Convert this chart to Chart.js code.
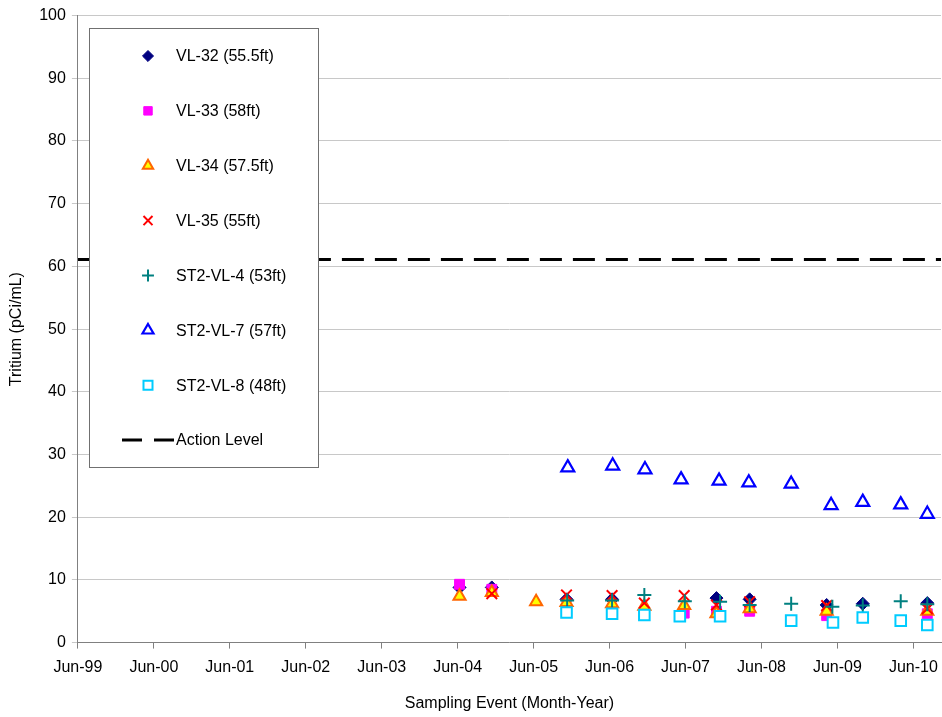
<!DOCTYPE html>
<html>
<head>
<meta charset="utf-8">
<script src="https://cdn.jsdelivr.net/npm/chart.js@4.4.1/dist/chart.umd.min.js"></script>
<style>
  html, body { margin: 0; padding: 0; background: #fff; }
  #wrap { width: 942px; height: 717px; }
</style>
</head>
<body>
<div id="wrap"><canvas id="c" width="942" height="717"></canvas></div>
<script>
// ---- Data (dates of sampling events, tritium in pCi/mL) ----
const seriesLabels = ['VL-32 (55.5ft)', 'VL-33 (58ft)', 'VL-34 (57.5ft)', 'VL-35 (55ft)',
                      'ST2-VL-4 (53ft)', 'ST2-VL-7 (57ft)', 'ST2-VL-8 (48ft)', 'Action Level'];

const vl32Dates  = ['2004-06-10','2004-11-13','2005-11-07','2006-06-13','2007-10-28','2008-04-05','2009-04-10','2009-10-01','2010-08-07'];
const vl32Values = [8.8, 8.8, 6.9, 6.9, 7.1, 6.9, 6.0, 6.2, 6.3];

const vl33Dates  = ['2004-06-10','2004-11-13','2005-11-07','2006-06-13','2006-11-16','2007-05-25','2007-10-28','2008-04-05','2009-04-10','2010-08-07'];
const vl33Values = [9.3, 8.5, 5.4, 5.0, 4.4, 4.7, 5.0, 5.0, 4.3, 4.6];

const vl34Dates  = ['2004-06-10','2004-11-13','2005-06-13','2005-11-07','2006-06-13','2006-11-16','2007-05-25','2007-10-28','2008-04-05','2009-04-10','2010-08-07'];
const vl34Values = [7.4, 8.0, 6.5, 6.4, 6.2, 5.8, 5.9, 4.6, 5.4, 5.0, 5.0];

const vl35Dates  = ['2004-11-13','2005-11-07','2006-06-13','2006-11-16','2007-05-25','2007-10-28','2008-04-05','2009-04-10','2010-08-07'];
const vl35Values = [7.8, 7.6, 7.5, 6.3, 7.5, 6.0, 6.5, 5.9, 5.4];

const st4Dates   = ['2005-11-10','2006-06-13','2006-11-16','2007-05-28','2007-11-15','2008-04-05','2008-10-22','2009-05-07','2009-10-01','2010-04-01','2010-08-07'];
const st4Values  = [6.7, 6.7, 7.6, 6.6, 6.5, 6.0, 6.2, 5.7, 5.9, 6.6, 6.1];

const st7Dates   = ['2005-11-13','2006-06-16','2006-11-19','2007-05-10','2007-11-10','2008-04-01','2008-10-22','2009-05-01','2009-10-01','2010-04-01','2010-08-07'];
const st7Values  = [27.9, 28.2, 27.6, 26.0, 25.8, 25.5, 25.3, 21.9, 22.4, 22.0, 20.5];

const st8Dates   = ['2005-11-07','2006-06-13','2006-11-16','2007-05-04','2007-11-15','2008-10-22','2009-05-10','2009-10-01','2010-04-01','2010-08-07'];
const st8Values  = [4.8, 4.6, 4.4, 4.2, 4.2, 3.5, 3.2, 4.0, 3.5, 2.8];

const actionLevel = 61.1;
const axisStart = '1999-06-01';
const axisEnd   = '2010-10-12';
const tickLabels = ['Jun-99','Jun-00','Jun-01','Jun-02','Jun-03','Jun-04','Jun-05','Jun-06','Jun-07','Jun-08','Jun-09','Jun-10'];

// ---- helpers ----
function monthsFromStart(s) {
  const [y, m, d] = s.split('-').map(Number);
  const [y0, m0, d0] = axisStart.split('-').map(Number);
  return (y - y0) * 12 + (m - m0) + (d - d0) / 30.4;
}
function pts(dates, vals) { return dates.map((d, i) => ({ x: monthsFromStart(d), y: vals[i] })); }

// let the plot area run to the right edge (no extra room reserved for the last x label)
const origCalcPadding = Chart.LinearScale.prototype._calculatePadding;
Chart.LinearScale.prototype._calculatePadding = function (...args) {
  origCalcPadding.apply(this, args);
  if (this.isHorizontal()) { this.paddingLeft = 0; this.paddingRight = 0; }
};

const FONT = "'Liberation Sans', Arial, sans-serif";
const FS = 16;
const xMax = monthsFromStart(axisEnd);

const styles = [
  { pointStyle: 'rectRot',  radius: 6.5, bg: '#000080', bc: '#000080', bw: 1 },
  { pointStyle: 'rect',     radius: 7,   bg: '#FF00FF', bc: '#FF00FF', bw: 1 },
  { pointStyle: 'triangle', radius: 7,   bg: '#FFFF00', bc: '#FF6600', bw: 2 },
  { pointStyle: 'crossRot', radius: 7.5, bg: '#FF0000', bc: '#FF0000', bw: 2 },
  { pointStyle: 'cross',    radius: 7,   bg: '#008080', bc: '#008080', bw: 2 },
  { pointStyle: 'triangle', radius: 7.5, bg: '#FFFFFF', bc: '#0000FF', bw: 2.2 },
  { pointStyle: 'rect',     radius: 7.5, bg: '#FFFFFF', bc: '#00CCFF', bw: 2 }
];
const seriesData = [pts(vl32Dates, vl32Values), pts(vl33Dates, vl33Values), pts(vl34Dates, vl34Values),
                    pts(vl35Dates, vl35Values), pts(st4Dates, st4Values), pts(st7Dates, st7Values),
                    pts(st8Dates, st8Values)];

const datasets = seriesData.map((data, i) => ({
  type: 'scatter',
  label: seriesLabels[i],
  data,
  showLine: false,
  pointStyle: styles[i].pointStyle,
  pointRadius: styles[i].radius,
  pointHoverRadius: styles[i].radius,
  pointBackgroundColor: styles[i].bg,
  pointBorderColor: styles[i].bc,
  pointBorderWidth: styles[i].bw,
  order: 8 - i
}));
datasets.push({
  type: 'line',
  label: seriesLabels[7],
  data: [{ x: 0, y: actionLevel }, { x: xMax, y: actionLevel }],
  borderColor: '#000000',
  borderWidth: 3,
  borderDash: [22, 11],
  pointRadius: 0,
  fill: false,
  order: 0
});

const legendPlugin = {
  id: 'boxLegend',
  afterDraw(chart) {
    const { ctx, chartArea } = chart;
    const x0 = Math.round(chartArea.left) + 11, y0 = Math.round(chartArea.top) + 12, w = 229, h = 439;
    ctx.save();
    ctx.fillStyle = '#ffffff';
    ctx.fillRect(x0, y0, w, h);
    ctx.strokeStyle = '#707070';
    ctx.lineWidth = 1;
    ctx.strokeRect(x0 + 0.5, y0 + 0.5, w, h);
    const step = 54.86;
    chart.data.datasets.forEach((ds, i) => {
      const cy = y0 + 28 + i * step;
      if (ds.type === 'line') {
        ctx.strokeStyle = '#000';
        ctx.lineWidth = 3;
        ctx.setLineDash([20, 12]);
        ctx.beginPath();
        ctx.moveTo(x0 + 33, cy);
        ctx.lineTo(x0 + 85, cy);
        ctx.stroke();
        ctx.setLineDash([]);
      } else {
        ctx.fillStyle = ds.pointBackgroundColor;
        ctx.strokeStyle = ds.pointBorderColor;
        ctx.lineWidth = ds.pointBorderWidth;
        Chart.helpers.drawPoint(ctx, { pointStyle: ds.pointStyle, radius: ds.pointRadius * 0.85, borderWidth: ds.pointBorderWidth, rotation: 0 }, x0 + 59, cy);
      }
      ctx.fillStyle = '#000';
      ctx.font = FS + 'px ' + FONT;
      ctx.textBaseline = 'middle';
      ctx.textAlign = 'left';
      ctx.fillText(ds.label, x0 + 87, cy + 1);
    });
    ctx.restore();
  }
};

new Chart(document.getElementById('c'), {
  data: { datasets },
  options: {
    responsive: false,
    animation: false,
    layout: { autoPadding: false, padding: { top: 9, right: 1, left: 5, bottom: 4 } },
    plugins: { legend: { display: false }, tooltip: { enabled: false } },
    scales: {
      x: {
        type: 'linear',
        min: 0,
        max: xMax,
        afterBuildTicks(scale) { scale.ticks = tickLabels.map((_, i) => ({ value: i * 12 })); },
        ticks: {
          autoSkip: false,
          maxRotation: 0,
          color: '#000',
          font: { family: FONT, size: FS },
          padding: 9,
          callback(v) { return tickLabels[Math.round(v / 12)]; }
        },
        grid: { drawOnChartArea: false, drawTicks: true, tickLength: 6, color: '#808080' },
        border: { color: '#808080', width: 1 },
        title: { display: true, text: 'Sampling Event (Month-Year)', color: '#000', font: { family: FONT, size: FS }, padding: { top: 8, bottom: 0 } }
      },
      y: {
        min: 0,
        max: 100,
        ticks: { stepSize: 10, color: '#000', font: { family: FONT, size: FS }, padding: 6 },
        grid: { color: '#C8C8C8', tickLength: 6 },
        border: { color: '#808080', width: 1 },
        title: { display: true, text: 'Tritium (pCi/mL)', color: '#000', font: { family: FONT, size: FS }, padding: { top: 2, bottom: 7 } }
      }
    }
  },
  plugins: [legendPlugin]
});
</script>
</body>
</html>
